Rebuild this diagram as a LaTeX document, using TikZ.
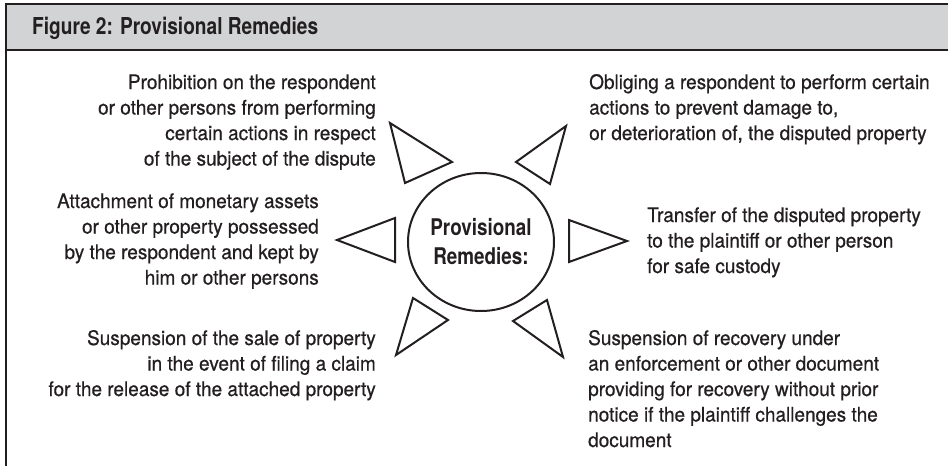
\documentclass[tikz,border=0pt]{standalone}
\usepackage{fontspec}
\setmainfont{TeX Gyre Heros}
\newfontfamily\bodyfont{TeX Gyre Heros}[FakeStretch=0.95, FakeBold=0.6]
\newfontfamily\hubfont{TeX Gyre Heros}[FakeStretch=0.82]
\usetikzlibrary{shapes.geometric}
\definecolor{ink}{HTML}{231F20}
\definecolor{band}{HTML}{D1D3D4}

\begin{document}
\begin{tikzpicture}
          [x = 1pt, y = -1pt,
           remedy/.style = {font = \bodyfont\fontsize{20}{25.5}\selectfont, text = ink, inner sep = 0pt},
           ray/.style = {draw = ink, line width = 2pt}]
          \useasboundingbox (0,0) rectangle (948,466);
          % frame and title band
          \fill[band] (6,4) rectangle (948,50);
          \draw[ink, line width = 2pt] (948,4) -- (6,4) -- (6,466);
          \draw[ink, line width = 2pt] (6,50) -- (948,50);
          \node[anchor = base west, inner sep = 0pt, text = ink, font = \hubfont\fontsize{23.3}{28}\selectfont\bfseries] (title) at (32,34) {Figure 2: Provisional Remedies};
          % centre
          \node[ellipse, draw = ink, line width = 2pt, minimum width = 146pt, minimum height = 138pt, inner sep = 0pt, align = center, text = ink, font = \hubfont\fontsize{23}{29}\selectfont\bfseries] (hub) at (481,242) {Provisional\\Remedies:};
          \draw[ray] (390,123) -- (452,162) -- (405,183) -- cycle;
          \draw[ray] (566,126) -- (516,162) -- (550,184) -- cycle;
          \draw[ray] (395,218) -- (337,240) -- (395,262) -- cycle;
          \draw[ray] (569,220) -- (627,241) -- (569,262) -- cycle;
          \draw[ray] (413,298) -- (448,320) -- (396,355) -- cycle;
          \draw[ray] (547,300) -- (513,321) -- (563,357) -- cycle;
          % remedies (base = last line)
          \node[remedy, align = right, anchor = base east] (prohibit) at (376,165.5) {Prohibition on the respondent\\or other persons from performing\\certain actions in respect\\of the subject of the dispute};
          \node[remedy, align = right, anchor = base east] (attach) at (319,284.5) {Attachment of monetary assets\\or other property possessed\\by the respondent and kept by\\him or other persons};
          \node[remedy, align = right, anchor = base east] (sale) at (376,396) {Suspension of the sale of property\\in the event of filing a claim\\for the release of the attached property};
          \node[remedy, align = left, anchor = base west] (oblige) at (589,140) {Obliging a respondent to perform certain\\actions to prevent damage to,\\or deterioration of, the disputed property};
          \node[remedy, align = left, anchor = base west] (transfer) at (647,273) {Transfer of the disputed property\\to the plaintiff or other person\\for safe custody};
          \node[remedy, align = left, anchor = base west] (recovery) at (588,447) {Suspension of recovery under\\an enforcement or other document\\providing for recovery without prior\\notice if the plaintiff challenges the\\document};
        \end{tikzpicture}
\end{document}
